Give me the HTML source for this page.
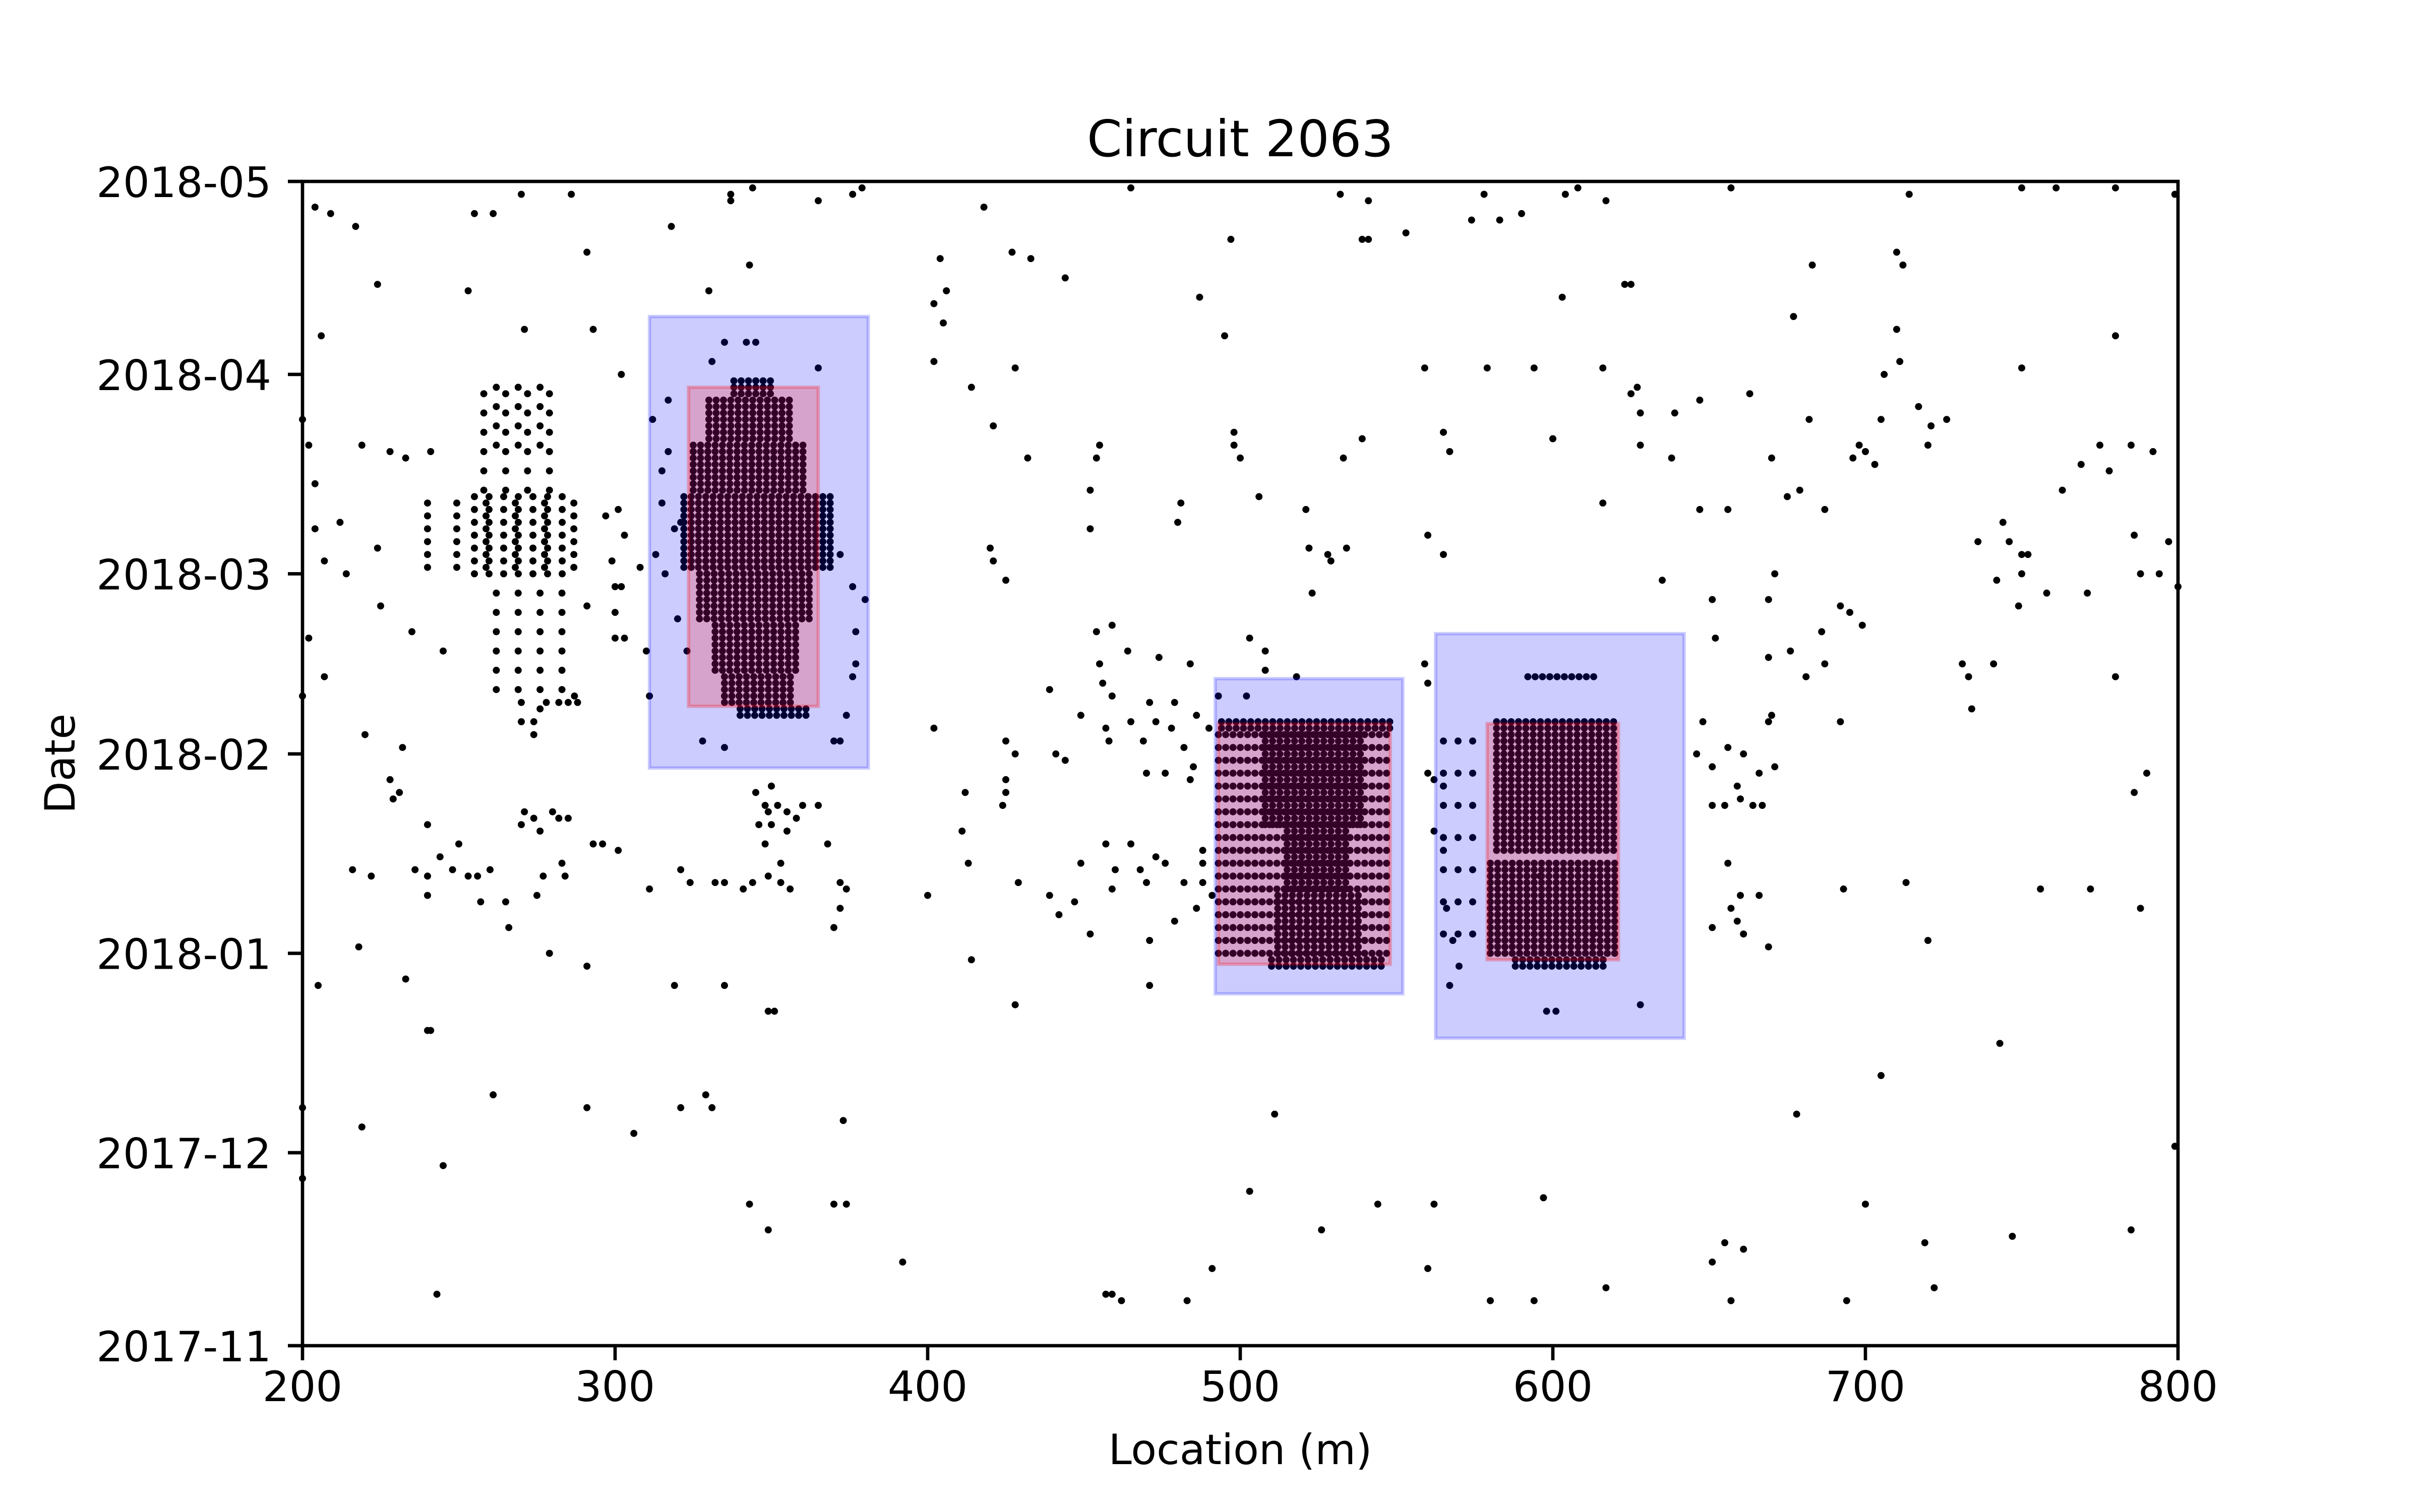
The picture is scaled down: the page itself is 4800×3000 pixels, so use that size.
<!DOCTYPE html>
<html><head><meta charset="utf-8">
<style>
html,body{margin:0;padding:0;background:#fff;}
svg{display:block;}
text{font-family:"DejaVu Sans","Liberation Sans",sans-serif;fill:#000;}
</style></head>
<body>
<svg id="chart" width="4800" height="3000" xmlns="http://www.w3.org/2000/svg">
<rect width="4800" height="3000" fill="#fff"/>
<g id="marks"></g>
<g id="patches"></g>
<g id="axes"></g>
<text x="2460" y="310" font-size="100" text-anchor="middle">Circuit 2063</text>
<text x="2460" y="2905" font-size="83" text-anchor="middle">Location (m)</text>
<text transform="translate(148,1515) rotate(-90)" font-size="83" text-anchor="middle">Date</text>
</svg>
<script>
// ---- data ----
const xTicks = [200,300,400,500,600,700,800];
const yTickDays = [0,30,61,92,120,151,181];
const yTickLabels = ["2017-11","2017-12","2018-01","2018-02","2018-03","2018-04","2018-05"];
// scattered detections [location m, days since 2017-11-01]
const scatterPts = [
[204,177],[209,176],[217,174],[261,176],[255,176],[270,179],[286,179],[291,170],[318,174],[337,179],[337,178],[344,180],[343,168],[365,178],[376,179],[379,180],[418,177],[404,169],[406,164],[427,170],[433,169],[444,166],[465,180],[497,172],[487,163],[532,179],[539,172],[541,172],[541,178],[553,173],[574,175],[578,179],[583,175],[590,176],[604,179],[608,180],[617,178],[657,180],[603,163],[623,165],[625,165],[683,168],[710,170],[712,168],[714,179],[750,180],[761,180],[780,180],[799,179],
[206,157],[200,144],[202,140],[204,134],[212,128],[204,127],[207,104],[202,110],[200,101],[214,120],[219,140],[228,139],[233,138],[241,139],[207,122],[224,124],[225,115],[235,111],[224,165],[253,164],[271,158],[302,151],[293,158],[312,144],[330,164],[402,153],[405,159],[402,162],[414,149],[428,152],[421,143],[432,138],[420,124],[425,119],[421,122],[455,140],[452,133],[454,138],[452,127],[481,131],[480,128],[498,140],[498,142],[500,138],[506,132],[495,157],[521,130],[522,124],[523,117],[528,123],[529,122],[534,124],[533,138],[539,141],[559,152],[565,123],[567,139],[565,142],[560,126],[579,152],[594,152],[600,141],[616,152],[625,148],[627,149],[628,145],[616,131],[628,140],[638,138],[639,145],[647,147],[635,119],[647,130],[663,148],[677,160],[682,144],[698,140],[696,138],[700,139],[705,144],[706,151],[710,158],[711,153],[703,137],[717,146],[721,143],[726,144],[720,140],[736,125],[744,128],[746,125],[750,123],[752,123],[750,120],[749,115],[758,117],[771,117],[780,104],[780,157],[763,133],[785,140],[786,126],[788,120],[794,120],[797,125],[800,118],[792,139],[778,136],[790,89],[786,86],[750,152],[769,137],[775,140],[742,119],[687,130],[670,138],[675,132],[679,133],[671,120],[669,116],[656,130],[651,116],[652,110],[669,107],[676,108],[681,104],[687,106],[692,115],[695,114],[699,112],[692,97],[669,97],[731,106],[733,104],[734,99],[741,106],[686,111],
[441,92],[444,91],[449,98],[455,106],[456,103],[457,96],[458,94],[465,97],[469,94],[471,100],[473,97],[470,89],[476,89],[478,96],[482,93],[485,90],[484,88],[486,98],[490,96],[488,77],[488,75],[488,72],[491,70],[457,78],[449,75],[447,69],[439,70],[442,67],[452,64],[459,71],[460,74],[465,78],[468,74],[470,72],[473,76],[476,75],[482,72],[486,68],[479,66],[425,88],[425,86],[424,84],[413,75],[425,94],[402,96],[411,80],[412,86],[429,72],[428,92],[439,102],[459,101],[464,108],[474,107],[454,111],[459,112],[503,110],[502,101],[508,108],[508,105],[518,104],[484,106],[493,101],[479,100],[471,56],[471,63],
[560,89],[562,88],[565,87],[562,80],[565,77],[566,68],[559,106],[560,103],[567,56],[570,59],[568,63],
[646,92],[651,90],[656,93],[659,87],[661,92],[666,89],[671,90],[651,84],[655,84],[660,85],[664,84],[667,84],[660,70],[657,68],[666,70],[659,66],[651,65],[661,64],[656,75],[648,97],[670,98],
[301,130],[303,126],[302,118],[308,121],[310,108],[311,101],[303,110],[299,122],[297,129],[287,101],
[274,95],[274,97],[276,99],[278,100],[282,100],[285,100],[288,100],[270,100],[270,97],
[271,83],[270,81],[274,82],[276,80],[280,83],[282,82],[285,82],[293,78],[296,78],[301,77],[283,75],[284,73],[277,73],[275,70],[265,69],[260,74],[250,78],[248,74],[244,76],[240,81],[236,74],[240,73],[240,70],[232,93],[231,86],[229,85],[228,88],[222,73],[216,74],[220,95],[256,73],[245,108],[291,115],
[345,86],[348,84],[349,83],[352,84],[355,83],[358,82],[360,84],[355,80],[350,81],[346,81],[348,78],[353,75],[349,73],[344,72],[341,71],[335,72],[332,72],[324,72],[311,71],[321,74],[353,72],[356,71],[374,71],[372,68],[370,65],[368,78],[365,84],[350,87],[372,72],
[200,37],[200,26],[219,34],[240,49],[241,49],[245,28],[243,8],[261,39],[291,37],[306,33],[321,37],[329,39],[331,37],[343,22],[349,18],[349,52],[351,52],[370,22],[373,35],[374,22],[392,13],[218,62],[233,57],[205,56],[457,8],[459,8],[462,7],[483,7],[491,12],[503,24],[511,36],[526,18],[544,22],[560,12],[562,22],[597,23],[598,52],[601,52],[580,7],[594,7],[617,9],[651,13],[655,16],[661,15],[657,7],[678,36],[694,7],[700,22],[705,42],[719,16],[722,9],[720,63],[743,47],[747,17],[788,68],[785,18],[799,31],[772,71],[756,71],[713,72],[693,71],[669,62],[628,53],[613,64],[596,73],[400,70],[414,60],[428,53],[335,56],[319,56],[291,59],[279,61],[266,65],[253,73],[257,69],
[315,136],[317,139],[319,127],[321,128],[315,131],[313,123],[317,147],[316,120],[320,113],[323,108],[328,94],[335,93],[372,94],[370,94],[374,98],[376,104],[377,106],[377,111],[372,123],[376,118],[380,116],[365,152],[335,156],[342,156],[345,156],[331,153]
];
// dense detection bands (grid rows)
const bandDayStart = [98,100,105,113,121,133,141,148, 59,61,61,71,71,81,81,96, 59,61,77,104,64, 120,121,133,102,110,140];
const bandDayEnd   = [99,104,112,120,132,140,147,150, 60,70,70,80,80,95,95,97, 60,75,97,104,96, 132,131,150,119,118,150];
const bandDayStep  = [1,1,1,1,1,1,1,1, 1,2,1,2,1,2,1,1, 1,1,1,1,5, 2,2,3,3,4,3];
const bandLocStart = [340,335,332,327,322,325,330,338, 510,493,512,493,515,493,508,494, 588,580,582,592,565, 255,240,258,262,300,262];
const bandLocEnd   = [362,358,360,364,370,362,358,352, 546,548,540,548,535,548,540,548, 618,621,621,614,578, 285,290,280,285,304,280];
const bandLocStep  = [2.34,2.34,2.34,2.34,2.34,2.34,2.34,2.34, 2.34,2.34,2.34,2.34,2.34,2.34,2.34,2.34, 2.34,2.34,2.34,2.34,4.68, 4.68,9.36,7,7,4.68,7];
// boxes
const boxType = ["outer","outer","outer","inner","inner","inner"];
const boxLoc0 = [311,492,562.5,323.5,493,579];
const boxLoc1 = [381,552,642,365,548,621];
const boxDay0 = [89.8,54.7,47.8,99.4,59.3,60];
const boxDay1 = [160,103.7,110.7,149,96.7,96.7];

// ---- scales ----
const X0=600,X1=4320,Y0=2670,Y1=360;
const xScale = v => X0 + (v-200)/600*(X1-X0);
const yScale = d => Y0 - d/181*(Y0-Y1);
const NS="http://www.w3.org/2000/svg";
function mk(tag, attrs, parent){const e=document.createElementNS(NS,tag);for(const k in attrs)e.setAttribute(k,attrs[k]);parent.appendChild(e);return e;}

const marks=document.getElementById('marks');
function dot(loc,day){
  if(loc<200||loc>800||day<0||day>181) return;
  const c=mk('circle',{cx:xScale(loc).toFixed(1),cy:yScale(day).toFixed(1),r:7,fill:'#000'},marks);
  
  
}
scatterPts.forEach(p=>dot(p[0],p[1]));
for(let i=0;i<bandDayStart.length;i++){
  for(let d=bandDayStart[i]; d<=bandDayEnd[i]; d+=bandDayStep[i]){
    for(let l=bandLocStart[i]; l<=bandLocEnd[i]+0.01; l+=bandLocStep[i]) dot(l,d);
  }
}

const patches=document.getElementById('patches');
for(let i=0;i<boxType.length;i++){
  const outer=boxType[i]==='outer';
  const x=xScale(boxLoc0[i]), w=xScale(boxLoc1[i])-x, y=yScale(boxDay1[i]), h=yScale(boxDay0[i])-y;
  const r=mk('rect',{x:x.toFixed(1),y:y.toFixed(1),width:w.toFixed(1),height:h.toFixed(1),
    fill: outer?'rgba(0,0,255,0.2)':'rgba(255,0,0,0.2)',
    stroke: outer?'rgba(0,0,255,0.2)':'rgba(255,0,0,0.25)','stroke-width':6.7},patches);
  
  
}

const axes=document.getElementById('axes');
const frame=mk('rect',{x:X0,y:Y1,width:X1-X0,height:Y0-Y1,fill:'none',stroke:'#000','stroke-width':6.67},axes);


xTicks.forEach(v=>{
  const x=xScale(v);
  const t=mk('line',{x1:x,x2:x,y1:Y0,y2:Y0+29,stroke:'#000','stroke-width':6.67},axes);
  
  
  const l=mk('text',{x:x,y:2780,'font-size':83,'text-anchor':'middle'},axes);
  l.textContent=v;
  
  
});
yTickDays.forEach((d,i)=>{
  const y=yScale(d);
  const t=mk('line',{x1:X0-29,x2:X0,y1:y,y2:y,stroke:'#000','stroke-width':6.67},axes);
  
  
  const l=mk('text',{x:538,y:y+31,'font-size':83,'text-anchor':'end'},axes);
  l.textContent=yTickLabels[i];
  
  
});
</script>
</body></html>
